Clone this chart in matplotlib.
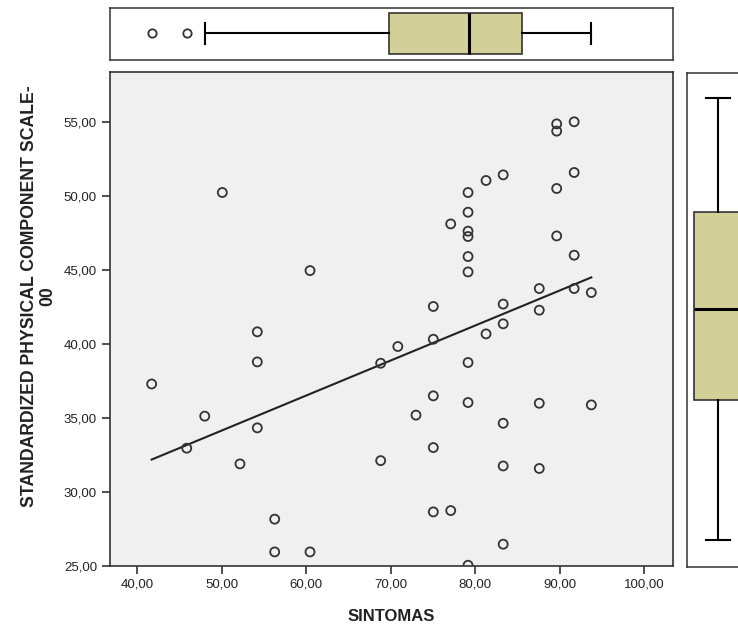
import numpy as np
from matplotlib import pyplot as plt

plt.rcParams['font.family'] = ['Liberation Sans', 'DejaVu Sans']

# datos
sintomas = [41.7, 45.85, 47.98, 50.06, 52.15, 54.2, 54.2, 54.2, 56.26, 56.26,
            60.44, 60.44, 68.8, 68.8, 70.83, 72.98, 75.03, 75.03, 75.03, 75.03,
            75.03, 77.09, 77.09, 79.14, 79.14, 79.14, 79.14, 79.14, 79.14, 79.14,
            79.14, 79.14, 81.27, 81.27, 83.3, 83.3, 83.3, 83.3, 83.3, 83.3,
            87.57, 87.57, 87.57, 87.57, 89.63, 89.63, 89.63, 89.63, 91.7, 91.7,
            91.7, 91.7, 93.73, 93.73]
fisico = [37.3, 32.97, 35.13, 50.22, 31.91, 40.82, 38.79, 34.34, 28.18, 25.97,
          25.97, 44.95, 38.7, 32.13, 39.83, 35.2, 42.53, 40.32, 36.5, 33.01,
          28.67, 48.1, 28.76, 50.22, 48.89, 47.61, 47.25, 45.9, 44.86, 38.75,
          36.05, 25.07, 51.03, 40.68, 51.41, 42.69, 41.36, 34.65, 31.77, 26.49,
          43.74, 42.28, 36.0, 31.6, 54.85, 54.36, 50.49, 47.29, 54.99, 51.57,
          45.99, 43.74, 43.47, 35.89]

# cajas (valores leidos)
caja_x = dict(whislo=47.98, q1=69.79, med=79.24, q3=85.47, whishi=93.73,
              fliers=[41.7, 45.85])
caja_y = dict(whislo=25.07, q1=34.53, med=40.72, q3=47.27, whishi=54.99,
              fliers=[])

x_ticks = [40, 50, 60, 70, 80, 90, 100]
y_ticks = [25, 30, 35, 40, 45, 50, 55]

W, H = 738, 625
fig = plt.figure(figsize=(W / 100, H / 100), dpi=100)

def px(l, t, r, b):
    return [l / W, (H - b) / H, (r - l) / W, (b - t) / H]

ax = fig.add_axes(px(109.5, 72, 672.7, 566.3))
ax_top = fig.add_axes(px(109.5, 8.3, 672.7, 60))
ax_der = fig.add_axes(px(686.7, 72.5, 748.7, 566.5))

borde = '#333333'
relleno = '#d2cf98'

#grafico principal
ax.set_facecolor('#f0f0f0')
ax.scatter(sintomas, fisico, s=42, facecolors='none', edgecolors='#333333',
           linewidths=1.3, zorder=3)
b, a = np.polyfit(sintomas, fisico, 1)
xl = np.array([min(sintomas), max(sintomas)])
ax.plot(xl, a + b * xl, color='#222222', lw=1.5, zorder=2)

ax.set_xlim(36.71, 103.36)
ax.set_ylim(25, 58.35)
ax.set_xticks(x_ticks)
ax.set_yticks(y_ticks)
ax.set_xticklabels(['%d,00' % v for v in x_ticks])
ax.set_yticklabels(['%d,00' % v for v in y_ticks])
ax.tick_params(direction='out', length=6, width=1.2, color='#333333',
               labelsize=9.5, labelcolor='#222222', pad=3)
for s in ax.spines.values():
    s.set_color(borde)
    s.set_linewidth(1.2)
ax.set_xlabel('SINTOMAS', fontsize=12, fontweight='bold', color='#222222',
              labelpad=13)
ax.set_ylabel('STANDARDIZED PHYSICAL COMPONENT SCALE-\n00', fontsize=12.7,
              fontweight='bold', color='#222222', linespacing=1.12)
ax.yaxis.set_label_coords(-0.094, 0.547)

props = dict(boxprops=dict(facecolor=relleno, edgecolor=borde, linewidth=1.2),
             medianprops=dict(color='black', linewidth=2.2),
             whiskerprops=dict(color='black', linewidth=1.5),
             capprops=dict(color='black', linewidth=1.5),
             flierprops=dict(marker='o', markersize=6, markerfacecolor='none',
                             markeredgecolor='#333333', markeredgewidth=1.3))

#caja superior
ax_top.bxp([caja_x], positions=[0.516], widths=0.805, vert=False,
           patch_artist=True, capwidths=0.4, **props)
ax_top.set_xlim(36.71, 103.36)
ax_top.set_ylim(0, 1)

#caja derecha
ax_der.bxp([caja_y], positions=[0.5], widths=0.774, vert=True,
           patch_artist=True, capwidths=0.387, **props)
ax_der.set_xlim(0, 1)
ax_der.set_ylim(23.31, 56.68)

for a_ in (ax_top, ax_der):
    a_.set_xticks([])
    a_.set_yticks([])
    for s in a_.spines.values():
        s.set_color(borde)
        s.set_linewidth(1.1)

fig.savefig('out.png', dpi=100)
